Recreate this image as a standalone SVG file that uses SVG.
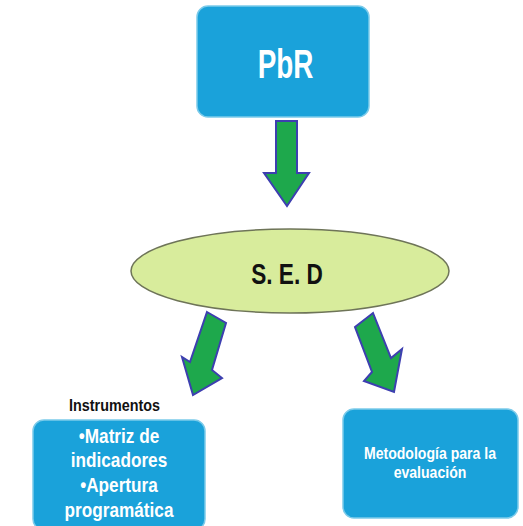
<svg xmlns="http://www.w3.org/2000/svg" width="523" height="526" viewBox="0 0 523 526">
<style>
.box{fill:#1aa2da;stroke:#7ccbea;stroke-width:1.5}
.arr{fill:#1ea84c;stroke:#3d3fb0;stroke-width:2;stroke-linejoin:miter}
.t{font-family:"Liberation Sans",Arial,sans-serif;font-weight:bold;text-anchor:middle}
.w{fill:#ffffff}
.k{fill:#111111}
</style>
<rect width="523" height="526" fill="#ffffff"/>
<g id="connectors">
<polygon class="arr" points="276,121 297,121 297,173 309,173 287,206 264,173 276,173"/>
<polygon class="arr" points="207,312 226,323 212,370 222,378 193,395 182,357 190,362"/>
<polygon class="arr" points="355,327 373,313 391,358 402,349 394,392 364,381 372,372"/>
</g>
<g id="pbr">
<rect class="box" x="197" y="6" width="172" height="111" rx="11"/>
<text class="t w" font-size="41" transform="translate(285.5,78) scale(0.68,1)">PbR</text>
</g>
<g id="sed">
<ellipse cx="290" cy="271" rx="159" ry="42" fill="#d8ec9c" stroke="#6e7458" stroke-width="1.5"/>
<text class="t k" font-size="29" transform="translate(287,284) scale(0.78,1)">S. E. D</text>
</g>
<g id="instrumentos">
<text class="t k" font-size="16.5" transform="translate(114.5,411) scale(0.87,1)">Instrumentos</text>
<rect class="box" x="33" y="420" width="172" height="110" rx="11"/>
<text class="t w" font-size="20" transform="translate(119,443) scale(0.86,1)">•Matriz de</text>
<text class="t w" font-size="20" transform="translate(119,467) scale(0.86,1)">indicadores</text>
<text class="t w" font-size="20" transform="translate(119,492) scale(0.86,1)">•Apertura</text>
<text class="t w" font-size="20" transform="translate(119,517) scale(0.86,1)">programática</text>
</g>
<g id="metodologia">
<rect class="box" x="343" y="409" width="175" height="109" rx="11"/>
<text class="t w" font-size="16" transform="translate(430,459) scale(0.88,1)">Metodología para la</text>
<text class="t w" font-size="16" transform="translate(430,478) scale(0.88,1)">evaluación</text>
</g>
</svg>
